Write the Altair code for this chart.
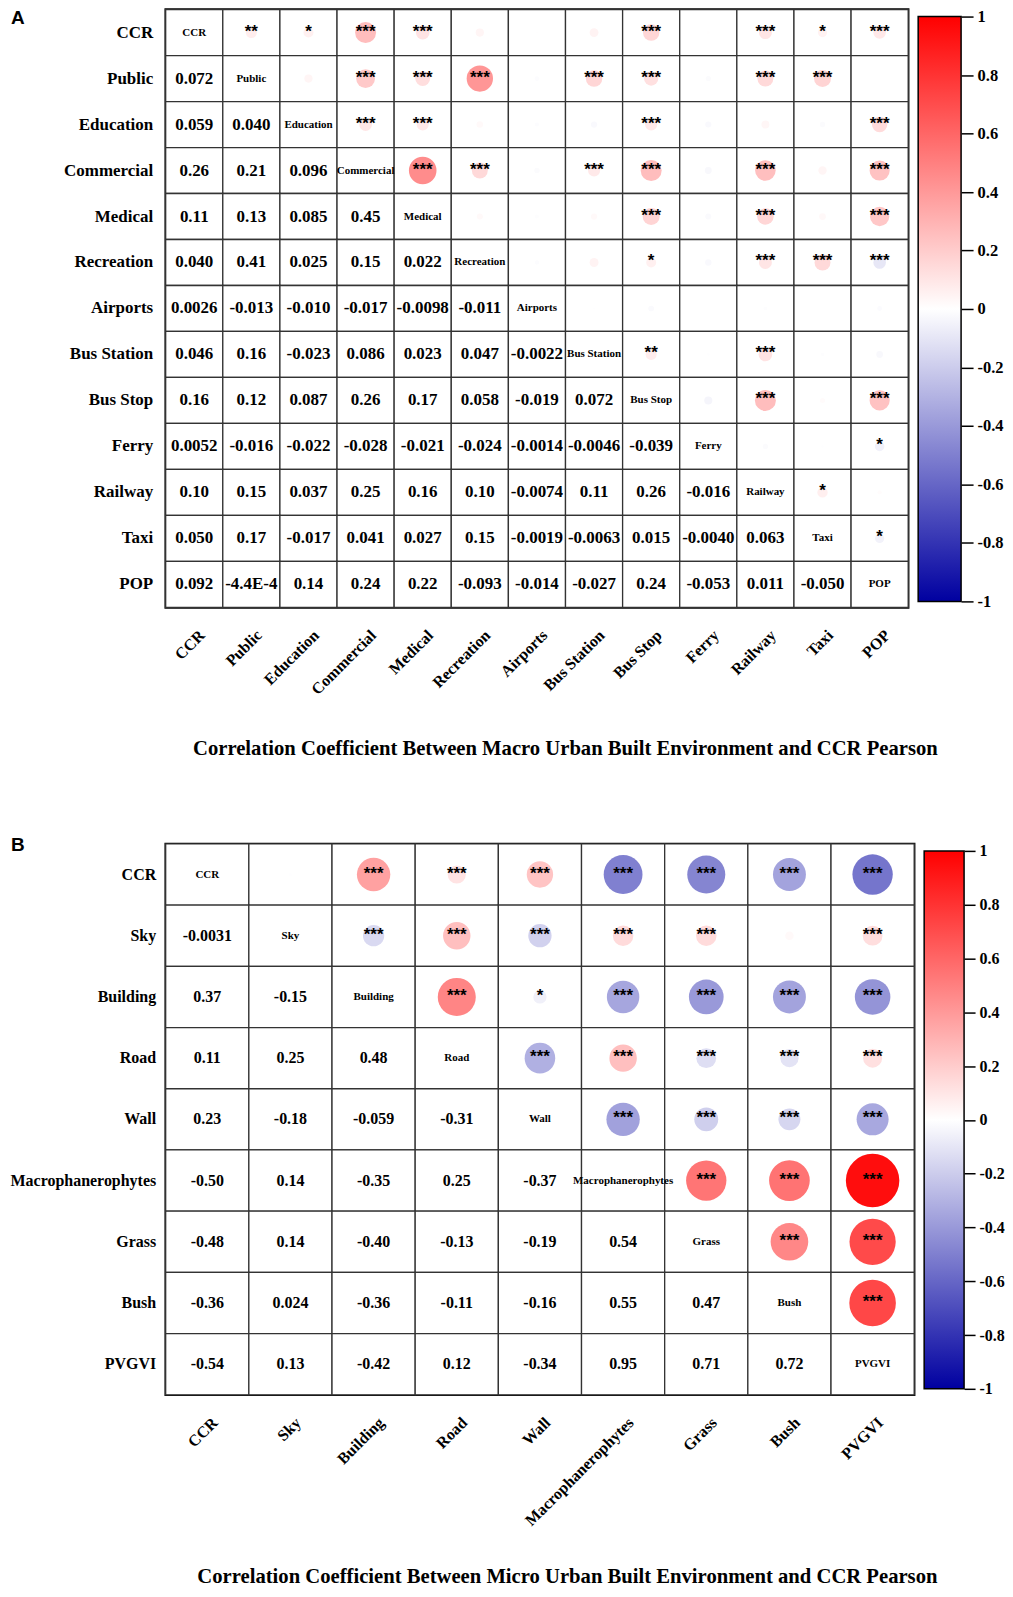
import altair as alt
import pandas as pd

SERIF = "Liberation Serif"
SANS = "Liberation Sans"

# ---------------- Panel A data ----------------
vars_a = ["CCR", "Public", "Education", "Commercial", "Medical", "Recreation",
          "Airports", "Bus Station", "Bus Stop", "Ferry", "Railway", "Taxi", "POP"]
lower_a = [
    [],
    ["0.072"],
    ["0.059", "0.040"],
    ["0.26", "0.21", "0.096"],
    ["0.11", "0.13", "0.085", "0.45"],
    ["0.040", "0.41", "0.025", "0.15", "0.022"],
    ["0.0026", "-0.013", "-0.010", "-0.017", "-0.0098", "-0.011"],
    ["0.046", "0.16", "-0.023", "0.086", "0.023", "0.047", "-0.0022"],
    ["0.16", "0.12", "0.087", "0.26", "0.17", "0.058", "-0.019", "0.072"],
    ["0.0052", "-0.016", "-0.022", "-0.028", "-0.021", "-0.024", "-0.0014", "-0.0046", "-0.039"],
    ["0.10", "0.15", "0.037", "0.25", "0.16", "0.10", "-0.0074", "0.11", "0.26", "-0.016"],
    ["0.050", "0.17", "-0.017", "0.041", "0.027", "0.15", "-0.0019", "-0.0063", "0.015", "-0.0040", "0.063"],
    ["0.092", "-4.4E-4", "0.14", "0.24", "0.22", "-0.093", "-0.014", "-0.027", "0.24", "-0.053", "0.011", "-0.050"],
]
stars_a = [
    ["**", "*", "***", "***", "", "", "", "***", "", "***", "*", "***"],
    ["", "***", "***", "***", "", "***", "***", "", "***", "***", ""],
    ["***", "***", "", "", "", "***", "", "", "", "***"],
    ["***", "***", "", "***", "***", "", "***", "", "***"],
    ["", "", "", "***", "", "***", "", "***"],
    ["", "", "*", "", "***", "***", "***"],
    ["", "", "", "", "", ""],
    ["**", "", "***", "", ""],
    ["", "***", "", "***"],
    ["", "", "*"],
    ["*", ""],
    ["*"],
    [],
]
title_a = "Correlation Coefficient Between Macro Urban Built Environment and CCR Pearson"

# ---------------- Panel B data ----------------
vars_b = ["CCR", "Sky", "Building", "Road", "Wall", "Macrophanerophytes", "Grass", "Bush", "PVGVI"]
lower_b = [
    [],
    ["-0.0031"],
    ["0.37", "-0.15"],
    ["0.11", "0.25", "0.48"],
    ["0.23", "-0.18", "-0.059", "-0.31"],
    ["-0.50", "0.14", "-0.35", "0.25", "-0.37"],
    ["-0.48", "0.14", "-0.40", "-0.13", "-0.19", "0.54"],
    ["-0.36", "0.024", "-0.36", "-0.11", "-0.16", "0.55", "0.47"],
    ["-0.54", "0.13", "-0.42", "0.12", "-0.34", "0.95", "0.71", "0.72"],
]
stars_b = [
    ["", "***", "***", "***", "***", "***", "***", "***"],
    ["***", "***", "***", "***", "***", "", "***"],
    ["***", "*", "***", "***", "***", "***"],
    ["***", "***", "***", "***", "***"],
    ["***", "***", "***", "***"],
    ["***", "***", "***"],
    ["***", "***"],
    ["***"],
    [],
]
title_b = "Correlation Coefficient Between Micro Urban Built Environment and CCR Pearson"

cbar_ticks = [1, 0.8, 0.6, 0.4, 0.2, 0, -0.2, -0.4, -0.6, -0.8, -1]
cmap_colors = ["#0000a0", "#ffffff", "#ff0000"]


def build_frames(vars_, lower, stars):
    cells, low, diag, upper = [], [], [], []
    n = len(vars_)
    for i in range(n):
        for j in range(n):
            cells.append({"row": vars_[i], "col": vars_[j]})
            if j < i:
                low.append({"row": vars_[i], "col": vars_[j], "txt": lower[i][j]})
            elif j == i:
                diag.append({"row": vars_[i], "col": vars_[j], "txt": vars_[i]})
            else:
                r = float(lower[j][i])
                upper.append({"row": vars_[i], "col": vars_[j], "r": r,
                              "ar": abs(r), "star": stars[i][j - i - 1]})
    return (pd.DataFrame(cells), pd.DataFrame(low), pd.DataFrame(diag),
            pd.DataFrame(upper))


def matrix(vars_, lower, stars, title, letter, width, height, max_size,
           ylab_size, val_size, ylab_pad, title_x, title_y, letter_y):
    cells, low, diag, upper = build_frames(vars_, lower, stars)
    x = alt.X("col:N", scale=alt.Scale(domain=vars_, paddingInner=0, paddingOuter=0),
              axis=alt.Axis(orient="bottom", labelAngle=-45, labelAlign="right",
                            labelBaseline="middle", labelOffset=8, labelPadding=25,
                            ticks=False, domain=False, grid=False, labelOverlap=False,
                            labelFont=SERIF, labelFontSize=16, labelFontWeight="bold",
                            labelColor="black", title=title, titleFont=SERIF,
                            titleFontSize=20.7, titleFontWeight="bold", titleColor="black",
                            titleX=title_x, titleY=title_y, titleAlign="center",
                            titleBaseline="middle"))
    y = alt.Y("row:N", scale=alt.Scale(domain=vars_, paddingInner=0, paddingOuter=0),
              axis=alt.Axis(orient="left", ticks=False, domain=False, grid=False,
                            labelOverlap=False, labelPadding=ylab_pad, minExtent=156,
                            labelFont=SERIF, labelFontSize=ylab_size,
                            labelFontWeight="bold", labelColor="black", title=None))
    base_rect = alt.Chart(cells).mark_rect(fill="white", stroke="#333333",
                                           strokeWidth=1.3).encode(x=x, y=y)
    circles = alt.Chart(upper).mark_circle(opacity=1).encode(
        x=x, y=y,
        size=alt.Size("ar:Q", scale=alt.Scale(domain=[0, 1], range=[0, max_size]),
                      legend=None),
        color=alt.Color("r:Q", scale=alt.Scale(domain=[-1, 0, 1], range=cmap_colors,
                                               interpolate="rgb"), legend=None))
    star_txt = alt.Chart(upper).mark_text(font=SANS, fontSize=17, fontWeight="bold",
                                          color="black", baseline="middle", dy=-1).encode(
        x=x, y=y, text="star:N")
    low_txt = alt.Chart(low).mark_text(font=SERIF, fontSize=val_size, fontWeight="bold",
                                       color="black", baseline="middle").encode(
        x=x, y=y, text="txt:N")
    diag_txt = alt.Chart(diag).mark_text(font=SERIF, fontSize=11, fontWeight="bold",
                                         color="black", baseline="middle").encode(
        x=x, y=y, text="txt:N")
    letter_txt = alt.Chart(pd.DataFrame({"t": [letter]})).mark_text(
        font=SANS, fontSize=19, fontWeight="bold", color="black", align="left",
        baseline="middle").encode(text="t:N", x=alt.value(-155), y=alt.value(letter_y))
    return alt.layer(base_rect, circles, star_txt, low_txt, diag_txt, letter_txt).properties(
        width=width, height=height,
        view=alt.ViewBackground(stroke="black", strokeWidth=2.5))


def colorbar(width, height, top_gap, bottom_gap, tick_size, label_size):
    per_unit = (height - top_gap - bottom_gap) / 2.0
    dom = [-1 - bottom_gap / per_unit, 1 + top_gap / per_unit]
    grad = alt.LinearGradient(
        gradient="linear",
        stops=[alt.GradientStop(color=cmap_colors[0], offset=0),
               alt.GradientStop(color=cmap_colors[1], offset=0.5),
               alt.GradientStop(color=cmap_colors[2], offset=1)],
        x1=0, x2=0, y1=1, y2=0)
    df = pd.DataFrame({"lo": [-1], "hi": [1]})
    return alt.Chart(df).mark_rect(fill=grad, stroke="black", strokeWidth=1.5).encode(
        y=alt.Y("lo:Q", scale=alt.Scale(domain=dom, nice=False, zero=False),
                axis=alt.Axis(orient="right", values=cbar_ticks, tickSize=tick_size,
                              tickWidth=1.5, tickColor="black", domain=False, grid=False,
                              labelPadding=4, labelFont=SERIF, labelFontSize=label_size,
                              labelFontWeight="bold", labelColor="black",
                              labelExpr="toString(datum.value)", title=None)),
        y2="hi:Q", x=alt.value(0), x2=alt.value(width)
    ).properties(width=width, height=height)


mat_a = matrix(vars_a, lower_a, stars_a, title_a, "A", 744, 599, 1700, 17, 17, 13,
               400, 141, 8)
mat_b = matrix(vars_b, lower_b, stars_b, title_b, "B", 750, 552, 3025, 16, 16, 10,
               402, 182, 1)

panel_a = alt.hconcat(mat_a, colorbar(43, 599, 7, 6, 12, 16.5), spacing=10, bounds="flush")
panel_b = alt.hconcat(mat_b, colorbar(40, 552, 7, 6, 11, 16), spacing=10, bounds="flush")

chart = alt.vconcat(panel_a, panel_b, spacing=75).resolve_scale(
    size="independent").properties(
    padding={"left": 0, "top": -3, "right": 0, "bottom": 0}
).configure_view(strokeWidth=0)

chart.save("out.html", embed_options={"renderer": "svg", "actions": False})
